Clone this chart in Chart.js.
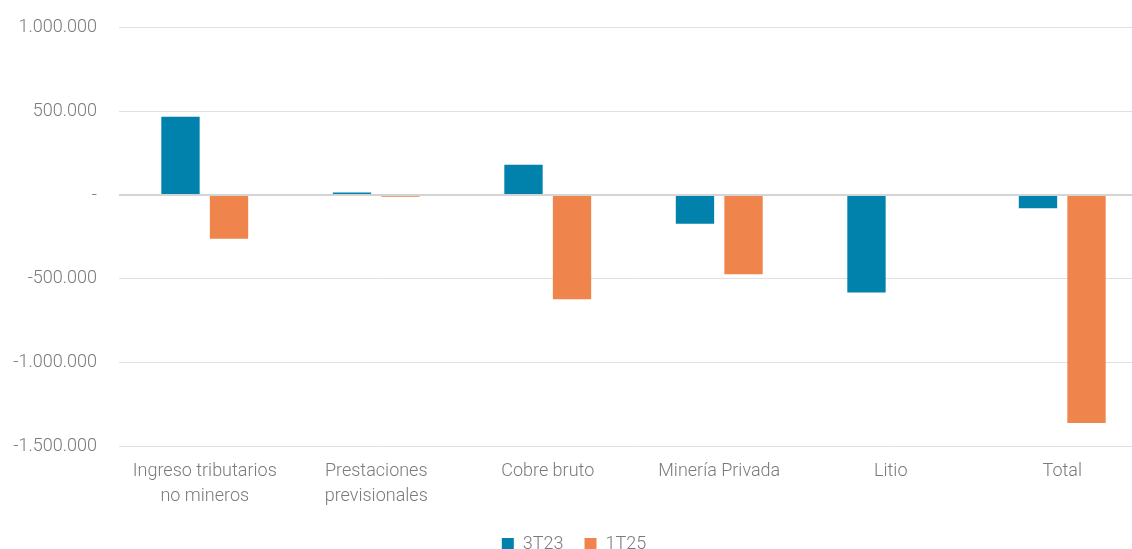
<!DOCTYPE html>
<html>
<head>
<meta charset="utf-8">
<script src="https://cdn.jsdelivr.net/npm/chart.js@4"></script>
<style>
html,body{margin:0;padding:0;background:#fff;overflow:hidden;}
#wrap{width:1132px;height:549px;overflow:hidden;position:relative;}
#c{position:absolute;left:0;top:-5px;}
</style>
</head>
<body>
<div id="wrap"><canvas id="c" width="1148" height="568"></canvas></div>
<script>
const categories = [
  ["Ingreso tributarios", "no mineros"],
  ["Prestaciones", "previsionales"],
  "Cobre bruto",
  "Minería Privada",
  "Litio",
  "Total"
];
const seriesNames = ["3T23", "1T25"];
const values3T23 = [469000, 15000, 181000, -171000, -583000, -79000];
const values1T25 = [-261000, -10000, -622000, -473000, 0, -1362000];
const yTicks = [1000000, 500000, 0, -500000, -1000000, -1500000];

const fmt = v => v === 0 ? "-" : (v < 0 ? "-" : "") + Math.abs(v).toString().replace(/\B(?=(\d{3})+(?!\d))/g, ".");
const FONT = { family: 'Roboto', size: 18, weight: '300', lineHeight: 1.4 };
const TXT = '#7a7a7a';

const chart = new Chart(document.getElementById('c'), {
  type: 'bar',
  data: {
    labels: categories,
    datasets: [
      { label: seriesNames[0], data: values3T23, backgroundColor: '#0082AD', borderWidth: 0 },
      { label: seriesNames[1], data: values1T25, backgroundColor: '#F0844D', borderWidth: 0 }
    ]
  },
  options: {
    responsive: false,
    animation: false,
    devicePixelRatio: 1,
    layout: { padding: { top: 5, right: 0, left: 0, bottom: 0 } },
    datasets: { bar: { categoryPercentage: 0.566, barPercentage: 0.79 } },
    scales: {
      x: {
        grid: { display: false },
        border: { display: false },
        afterFit: axis => { axis.height = 68; },
        ticks: { color: TXT, font: FONT, maxRotation: 0, autoSkip: false, padding: 5 }
      },
      y: {
        min: -1500000,
        max: 1000000,
        afterBuildTicks: axis => { axis.ticks = yTicks.map(v => ({ value: v })); },
        afterFit: axis => { axis.width = 119; },
        border: { display: false },
        grid: {
          color: ctx => ctx.tick && ctx.tick.value === 0 ? '#d4d4d4' : '#e0e0e0',
          lineWidth: ctx => ctx.tick && ctx.tick.value === 0 ? 2 : 1,
          drawTicks: false
        },
        ticks: { color: TXT, font: { family: 'Roboto', size: 18, weight: '300' }, padding: 22, callback: v => fmt(v) }
      }
    },
    plugins: {
      legend: {
        position: 'bottom',
        labels: { color: TXT, font: { family: 'Roboto', size: 18, weight: '300' }, boxWidth: 12, boxHeight: 12, padding: 21 }
      },
      tooltip: { enabled: false }
    }
  }
});
</script>
</body>
</html>
